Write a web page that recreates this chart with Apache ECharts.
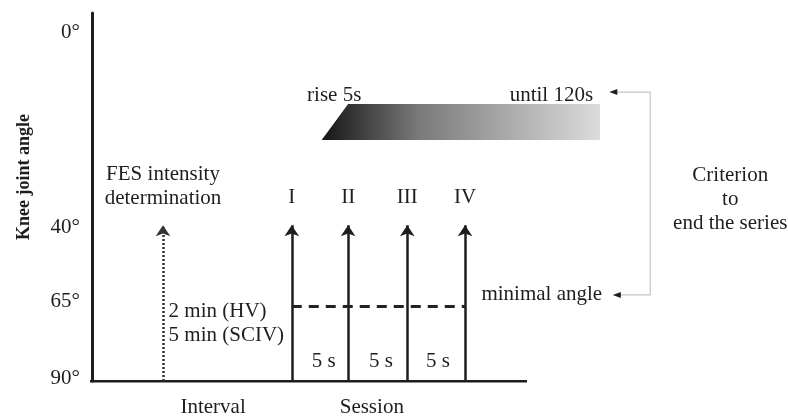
<!DOCTYPE html>
<html><head><meta charset="utf-8">
<script src="https://cdn.jsdelivr.net/npm/echarts@6/dist/echarts.min.js"></script>
<style>html,body{margin:0;padding:0;background:#fff}#c{width:788px;height:417px}</style>
</head><body><div id="c"></div>
<script>
// ---- data (diagram units: x = time slots 0..100, y = height level 0..100) ----
var angleLabels = ['0°', '40°', '65°', '90°'];
var angleLevels = [94.6, 41.6, 21.5, 0.6];
var sessionNames = ['I', 'II', 'III', 'IV'];
var sessionX = [28.7, 36.8, 45.3, 53.6];
var fesX = 10.2;
var arrowTop = 42.3;
var minimalAngleLevel = 20.4;
var baselineEnd = 62.5;
var restLabels = ['5 s', '5 s', '5 s'];
var restX = [33.3, 41.5, 49.7];
var restY = 5.4;
var riseBar = { x0: 33.0, x1: 36.8, x2: 73.0, yLow: 65.5, yHigh: 75.3 };
var bracket = { xIn1: 74.9, xIn2: 75.4, xOut: 80.2, yTop: 78.5, yBottom: 23.4 };
var notes = [
  { text: 'rise 5s', x: 30.9, y: 77.7, align: 'left' },
  { text: 'until 120s', x: 72.0, y: 77.7, align: 'right' },
  { text: 'FES intensity\ndetermination', x: 10.2, y: 52.9, align: 'center' },
  { text: '2 min (HV)\n5 min (SCIV)', x: 11.0, y: 15.5, align: 'left' },
  { text: 'minimal angle', x: 73.3, y: 23.4, align: 'right' },
  { text: 'Criterion\nto\nend the series', x: 91.7, y: 49.2, align: 'center' },
  { text: 'Interval', x: 17.4, y: -7.3, align: 'center' },
  { text: 'Session', x: 40.2, y: -7.3, align: 'center' }
];
var sessionLabelY = 50.0;

var FONT = '"Liberation Serif", "DejaVu Serif", serif';
var INK = '#1e1e1e';

var chart = echarts.init(document.getElementById('c'));

var sessionArrows = sessionX.map(function (x) { return { coords: [[x, 0], [x, arrowTop]] }; });

var textItems = notes.map(function (n) { return [n.x, n.y, n.text, n.align]; });
sessionNames.forEach(function (s, i) { textItems.push([sessionX[i], sessionLabelY, s, 'center']); });
restLabels.forEach(function (s, i) { textItems.push([restX[i], restY, s, 'center']); });

var option = {
  animation: false,
  backgroundColor: '#fff',
  grid: { left: 92, right: 0, top: 13, bottom: 36 },
  xAxis: { type: 'value', min: 0, max: 100, show: false },
  yAxis: {
    type: 'value', min: 0, max: 100,
    splitLine: { show: false },
    axisTick: { show: false },
    axisLine: { show: true, lineStyle: { color: INK, width: 3 } },
    axisLabel: {
      customValues: angleLevels,
      margin: 12,
      color: INK, fontFamily: FONT, fontSize: 21,
      formatter: function (v) {
        for (var i = 0; i < angleLevels.length; i++) if (Math.abs(angleLevels[i] - v) < 1e-6) return angleLabels[i];
        return '';
      }
    }
  },
  graphic: [{
    type: 'text', left: 15, top: 114, rotation: Math.PI / 2,
    style: { text: 'Knee joint angle', fill: INK, font: 'bold 18px ' + FONT }
  }],
  series: [
    { // baseline
      type: 'lines', coordinateSystem: 'cartesian2d', silent: true,
      lineStyle: { color: INK, width: 3, opacity: 1 },
      data: [{ coords: [[-0.3, 0], [baselineEnd, 0]] }]
    },
    { // session arrows
      type: 'lines', coordinateSystem: 'cartesian2d', silent: true,
      symbol: ['none', 'arrow'], symbolSize: 11,
      lineStyle: { color: INK, width: 2.5, opacity: 1 },
      data: sessionArrows
    },
    { // FES arrow
      type: 'lines', coordinateSystem: 'cartesian2d', silent: true,
      symbol: ['none', 'arrow'], symbolSize: 11,
      lineStyle: { color: '#333', width: 2.5, type: [2, 2], opacity: 1 },
      data: [{ coords: [[fesX, 0], [fesX, arrowTop]] }]
    },
    { // minimal angle dashed line
      type: 'lines', coordinateSystem: 'cartesian2d', silent: true,
      lineStyle: { color: '#222', width: 2.8, type: [10, 7], opacity: 1 },
      data: [{ coords: [[sessionX[0], minimalAngleLevel], [sessionX[3], minimalAngleLevel]] }]
    },
    { // bracket
      type: 'lines', coordinateSystem: 'cartesian2d', polyline: true, silent: true,
      lineStyle: { color: '#c4c4c4', width: 1.2, opacity: 1 },
      data: [{ coords: [[bracket.xIn1, bracket.yTop], [bracket.xOut, bracket.yTop], [bracket.xOut, bracket.yBottom], [bracket.xIn2, bracket.yBottom]] }]
    },
    { // bracket arrowheads
      type: 'scatter', silent: true,
      symbol: 'triangle', symbolRotate: 90, symbolSize: [6, 8],
      itemStyle: { color: INK, opacity: 1 },
      data: [[bracket.xIn1, bracket.yTop], [bracket.xIn2, bracket.yBottom]]
    },
    { // rise bar
      type: 'custom', coordinateSystem: 'cartesian2d', silent: true,
      data: [[riseBar.x0, riseBar.yLow]],
      renderItem: function (params, api) {
        var p1 = api.coord([riseBar.x0, riseBar.yLow]);
        var p2 = api.coord([riseBar.x1, riseBar.yHigh]);
        var p3 = api.coord([riseBar.x2, riseBar.yHigh]);
        var p4 = api.coord([riseBar.x2, riseBar.yLow]);
        return {
          type: 'polygon',
          shape: { points: [p1, p2, p3, p4] },
          style: {
            fill: new echarts.graphic.LinearGradient(0, 0, 1, 0, [
              { offset: 0, color: '#151515' },
              { offset: 0.35, color: '#7a7a7a' },
              { offset: 1, color: '#dcdcdc' }
            ])
          }
        };
      }
    },
    { // text annotations
      type: 'custom', coordinateSystem: 'cartesian2d', silent: true, clip: false,
      data: textItems,
      renderItem: function (params, api) {
        var d = textItems[params.dataIndex];
        var p = api.coord([d[0], d[1]]);
        return {
          type: 'text', x: p[0], y: p[1],
          style: {
            text: d[2], fill: INK, font: '21px ' + FONT,
            align: d[3], verticalAlign: 'middle', lineHeight: 24
          }
        };
      }
    }
  ]
};
chart.setOption(option);
</script></body></html>
